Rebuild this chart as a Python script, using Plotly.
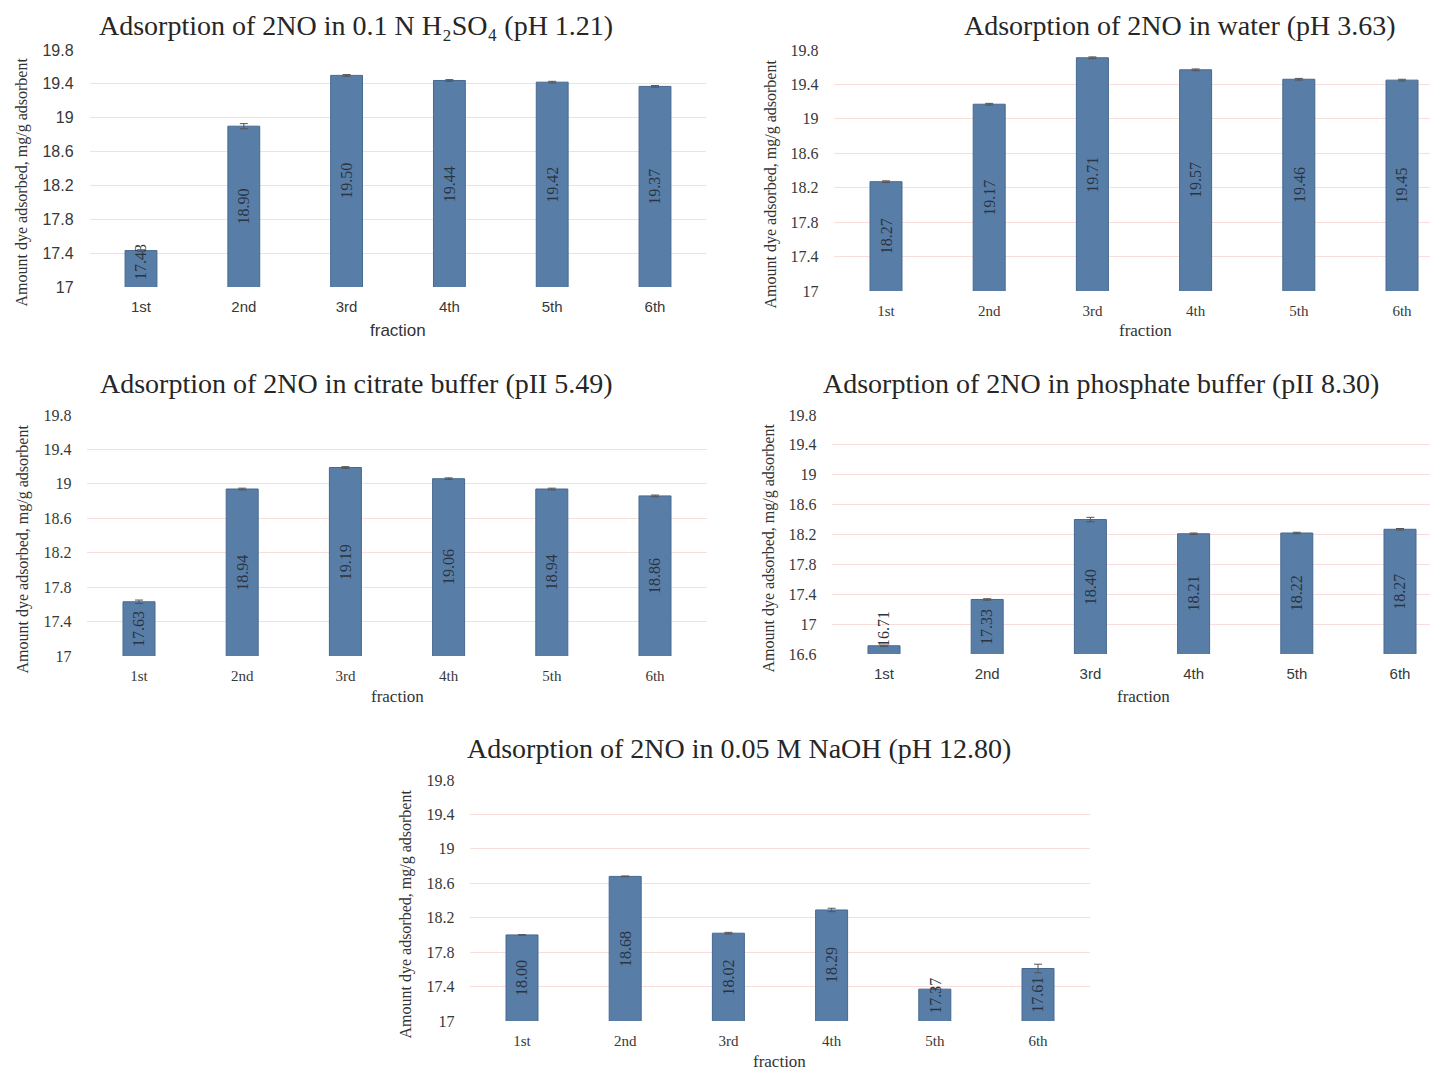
import plotly.graph_objects as go

# window size and the page's body offset (browser default margin)
WIN_W, WIN_H = 1438, 1071
OFF = 8
W, H = WIN_W - OFF, WIN_H - OFF

categories = ["1st", "2nd", "3rd", "4th", "5th", "6th"]

# values per panel
h2so4_vals = [17.43, 18.90, 19.50, 19.44, 19.42, 19.37]
h2so4_err = [0.01, 0.03, 0.01, 0.01, 0.01, 0.01]
water_vals = [18.27, 19.17, 19.71, 19.57, 19.46, 19.45]
water_err = [0.01, 0.01, 0.01, 0.01, 0.01, 0.01]
citrate_vals = [17.63, 18.94, 19.19, 19.06, 18.94, 18.86]
citrate_err = [0.02, 0.01, 0.01, 0.01, 0.01, 0.01]
phosphate_vals = [16.71, 17.33, 18.40, 18.21, 18.22, 18.27]
phosphate_err = [0.01, 0.01, 0.03, 0.01, 0.01, 0.01]
naoh_vals = [18.00, 18.68, 18.02, 18.29, 17.37, 17.61]
naoh_err = [0.003, 0.005, 0.01, 0.02, 0.003, 0.05]

titles = [
    "Adsorption of 2NO in 0.1 N H\u2082SO\u2084 (pH 1.21)",
    "Adsorption of 2NO in water (pH 3.63)",
    "Adsorption of 2NO in citrate buffer (pII 5.49)",
    "Adsorption of 2NO in phosphate buffer (pII 8.30)",
    "Adsorption of 2NO in 0.05 M NaOH (pH 12.80)",
]
y_mins = [17, 17, 17, 16.6, 17]
y_max = 19.8
y_step = 0.4
y_title = "Amount dye adsorbed, mg/g adsorbent"
x_title = "fraction"

SANS = "Liberation Sans"
SERIF = "Liberation Serif"

# layout in window pixels
panels = [
    dict(vals=h2so4_vals, err=h2so4_err, px=(89.6, 706.4), py=(50, 287), tpos=(356, 26), ytx=22, fx=398, fy=330, xfam=SANS, yfam=SANS, ffam=SANS),
    dict(vals=water_vals, err=water_err, px=(834.4, 1453.6), py=(50, 291), tpos=(1180, 26), ytx=770, fx=1145, fy=331, xfam=SERIF, yfam=SERIF, ffam=SERIF),
    dict(vals=citrate_vals, err=citrate_err, px=(87.4, 706.6), py=(415, 656), tpos=(356, 383), ytx=22, fx=397, fy=696, xfam=SERIF, yfam=SERIF, ffam=SERIF),
    dict(vals=phosphate_vals, err=phosphate_err, px=(832.4, 1451.6), py=(415, 654), tpos=(1101, 383), ytx=768, fx=1143, fy=696, xfam=SANS, yfam=SERIF, ffam=SERIF),
    dict(vals=naoh_vals, err=naoh_err, px=(470.4, 1089.6), py=(780, 1021), tpos=(739, 748), ytx=405, fx=780, fy=1061, xfam=SERIF, yfam=SERIF, ffam=SERIF),
]


def fx_(x):
    return (x - OFF) / W


def fy_(y):
    return 1 - (y - OFF) / H


BAR = "#587EA8"
EDGE = "#47698F"
GRID = "#F7DEDA"
MIN_LABEL_OFFSET = 25  # px: data label kept inside the plot area

fig = go.Figure()
annotations = []
layout = {}

for i, p in enumerate(panels):
    n = "" if i == 0 else str(i + 1)
    xa, ya = "x" + n, "y" + n
    ymin = y_mins[i]
    px_per_unit = (p["py"][1] - p["py"][0]) / (y_max - ymin)
    fig.add_trace(go.Bar(
        x=categories, y=p["vals"], xaxis=xa, yaxis=ya,
        marker=dict(color=BAR, line=dict(color=EDGE, width=1)),
        width=0.31,
        error_y=dict(type="data", array=p["err"], visible=True, color="#555555", thickness=1, width=4),
        showlegend=False, hoverinfo="x+y",
    ))
    for c, v in zip(categories, p["vals"]):
        mid = (v + ymin) / 2
        off = (mid - ymin) * px_per_unit
        shift = max(0, MIN_LABEL_OFFSET - off)
        annotations.append(dict(
            x=c, y=mid, xref=xa, yref=ya, text=f"{v:.2f}", yshift=shift,
            textangle=-90, showarrow=False,
            font=dict(family=SERIF, size=16, color="#2b3440"),
        ))
    x0, x1 = p["px"]
    slot = (x1 - x0) / 6
    right = min(x1, WIN_W)
    xr = 5.5 - (x1 - right) / slot
    layout["xaxis" + n] = dict(
        domain=[fx_(x0), fx_(right)],
        anchor=ya, range=[-0.5, xr], showgrid=False, zeroline=False,
        showline=False, ticks="", ticklabelstandoff=9, automargin=False,
        tickfont=dict(family=p["xfam"], size=15, color="#383838"),
        fixedrange=True,
    )
    layout["yaxis" + n] = dict(
        domain=[fy_(p["py"][1]), fy_(p["py"][0])],
        anchor=xa, range=[ymin, y_max], tick0=ymin, dtick=y_step,
        showgrid=True, gridcolor=GRID, gridwidth=1, zeroline=False,
        showline=False, ticks="", ticklabelstandoff=15, automargin=False,
        tickfont=dict(family=p["yfam"], size=16, color="#383838"),
        fixedrange=True,
    )
    annotations.append(dict(
        x=fx_(p["tpos"][0]), y=fy_(p["tpos"][1]), xref="paper", yref="paper",
        text=titles[i], showarrow=False, xanchor="center", yanchor="middle",
        font=dict(family=SERIF, size=28, color="#262626"),
    ))
    annotations.append(dict(
        x=fx_(p["ytx"]), y=fy_((p["py"][0] + p["py"][1]) / 2 + 14), xref="paper", yref="paper",
        text=y_title, textangle=-90, showarrow=False, xanchor="center", yanchor="middle",
        font=dict(family=SERIF, size=16, color="#333333"),
    ))
    annotations.append(dict(
        x=fx_(p["fx"]), y=fy_(p["fy"]), xref="paper", yref="paper",
        text=x_title, showarrow=False, xanchor="center", yanchor="middle",
        font=dict(family=p["ffam"], size=17, color="#333333"),
    ))

fig.update_layout(
    width=W, height=H, margin=dict(l=0, r=0, t=0, b=0, autoexpand=False),
    paper_bgcolor="white", plot_bgcolor="white",
    annotations=annotations, **layout,
)

fig.write_html("out.html")
